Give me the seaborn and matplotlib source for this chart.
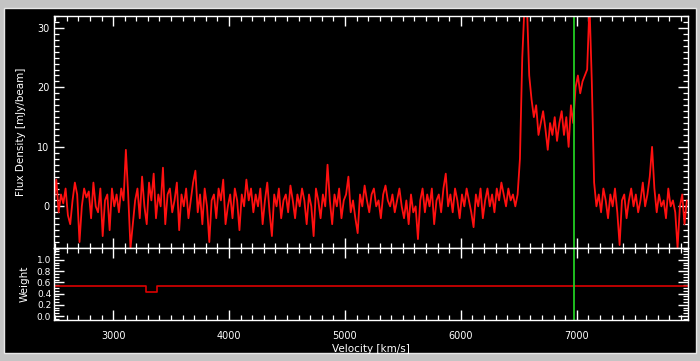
import numpy as np
import pandas as pd
import matplotlib
matplotlib.use("Agg")
import matplotlib.pyplot as plt
import seaborn as sns
from matplotlib.patches import Rectangle
from matplotlib.ticker import MultipleLocator

sns.set_style("dark")
plt.rcParams['font.family'] = ['DejaVu Sans']
plt.rcParams.update({
    "xtick.bottom": True, "xtick.top": True, "ytick.left": True, "ytick.right": True,
    "xtick.direction": "in", "ytick.direction": "in",
    "xtick.major.size": 7, "ytick.major.size": 7,
    "xtick.minor.size": 3.5, "ytick.minor.size": 3.5,
    "xtick.major.width": 1.0, "ytick.major.width": 1.0,
    "xtick.minor.width": 0.9, "ytick.minor.width": 0.9,
    "xtick.color": "white", "ytick.color": "white",
})

# ---- data ----
vel_start = 2490
vel_step = 20
flux = [
    # 2490-2990
    1, 4.5, -1, 2, 0.5, 3, -1.5, -3, 1, 4, 2, -6, 0, 3, 1.5, 2.5, -2, 4, 0, -1, 3, -5, 1, 2, -4, 3,
    # 3010-3490
    0, 2, -1, 3, 1, 9.5, 2, -7, -3, 1, 3, -2, 5, 0, -3, 4, 1, 5.5, -2, 2, 0, 6.5, -3, 2, 3,
    # 3510-3990
    -1, 1, 4, -4, 2, 0, 3, -2, 1, 4, 6, -1, 2, -3, 3, 0, -6, 1, 2, -2, 3, 1, 4.5, -3, 0,
    # 4010-4490
    2, -2, 3, 1, -4, 2, 0, 4.5, 1, 3, -1, 2, 0, 3, -3, 1, 4, -1, -5, 2, 0, 3, -2, 1, 2,
    # 4510-4990
    -1, 3.5, 1, -2, 2, 0, 3, 1, -3, 2, 0, -5, 3, 1, -2, 2, 0, 7, 1, -3, 2, 0, 3, -2, 1,
    # 5010-5490
    2, 5, -1, 1, -2, -4.5, 2, 0, 3.5, 1, -1, 2, 3, 0, 1, -2, 2, 3.5, 1, 0, 2, -1, 1, 3, 0,
    # 5510-5990
    -2, 1, -3, 2, -1, 0, -5.5, 1, 3, -1, 2, 0, 3, -3, 1, 2, -1, 3, 5.5, 0, 2, -1, 3, 1, -2,
    # 6010-6490
    2, 0, 3, 1, -1, -3.5, 2, 0, 3, -2, 1, 3, 0, 2, -1, 3, 1, 4, 2, 0, 3, 1, 2, 0, 2,
    # 6510-6990
    8, 25, 34, 34, 22, 18, 15, 17, 12, 14, 16, 13, 9.5, 14, 12, 15, 11, 14, 16, 12, 15, 10, 17, 14, 20,
    # 7010-7490
    22, 19, 21, 22, 23, 34, 21, 4, 0, 2, -1, 3, 1, -2, 2, 0, 3, -1, -6.5, 1, 2, -2, 1, 3, 0,
    # 7510-7950
    2, -1, 1, 4, 0, 2, 5, 10, 3, -1, 2, 0, 1, -2, 3, 0, 1, -1, -7, 0, 2, -3, 1,
]
velocity = vel_start + vel_step * np.arange(len(flux))

weight_vel = [2490, 3280, 3380, 7960]
weight_val = [0.53, 0.43, 0.53, 0.53]

marker_vel = 6975
x_ticks = [3000, 4000, 5000, 6000, 7000]
flux_ticks = [0, 10, 20, 30]
weight_ticks = [0.0, 0.2, 0.4, 0.6, 0.8, 1.0]
weight_labels = ["0.0", "0.2", "0.4", "0.6", "0.8", "1.0"]

df = pd.DataFrame({"Velocity": velocity, "Flux": flux})
dw = pd.DataFrame({"Velocity": weight_vel, "Weight": weight_val})

W, H = 700, 361
fig = plt.figure(figsize=(7.0, 3.61), dpi=100, facecolor="#c4c4c4")
# black panel inside the gray window frame
fig.patches.append(Rectangle((4 / W, 8 / H), 692 / W, 345 / H, transform=fig.transFigure,
                             facecolor="black", edgecolor="#e8e8e8", lw=1, zorder=-10))

L, R = 54 / W, 688 / W
ax1 = fig.add_axes([L, 1 - 248 / H, R - L, (248 - 16) / H])
ax2 = fig.add_axes([L, 1 - 320 / H, R - L, (320 - 248) / H], sharex=ax1)

sns.lineplot(data=df, x="Velocity", y="Flux", ax=ax1, color="#ff1010", lw=1.3,
             estimator=None)
ax1.axvline(marker_vel, color="#22cc22", lw=1.3)
ax1.set_xlim(2490, 7960)
ax1.set_ylim(-7, 32)
ax1.set_yticks(flux_ticks)
ax1.yaxis.set_minor_locator(MultipleLocator(1))
ax1.xaxis.set_minor_locator(MultipleLocator(100))
ax1.set_xticks(x_ticks)
ax1.set_xlabel("")
ax1.set_ylabel("Flux Density [mJy/beam]", color="white", fontsize=7.5, labelpad=8)

sns.lineplot(data=dw, x="Velocity", y="Weight", ax=ax2, color="#dd0000", lw=1.2,
             drawstyle="steps-post", estimator=None)
ax2.axvline(marker_vel, color="#22cc22", lw=1.3)
ax2.set_ylim(-0.07, 1.21)
ax2.set_yticks(weight_ticks)
ax2.set_yticklabels(weight_labels)
ax2.yaxis.set_minor_locator(MultipleLocator(0.05))
ax2.set_xticks(x_ticks)
ax2.set_ylabel("Weight", color="white", fontsize=7.5, labelpad=5)
ax2.set_xlabel("Velocity [km/s]", color="white", fontsize=7.5, labelpad=2)

for ax in (ax1, ax2):
    ax.set_facecolor("black")
    ax.grid(False)
    for s in ax.spines.values():
        s.set_color("white")
        s.set_linewidth(1.0)
        s.set_visible(True)
    ax.tick_params(which="both", direction="in", colors="white", top=True, right=True,
                   bottom=True, left=True, labelsize=7)
    ax.tick_params(which="major", length=7, width=1.0)
    ax.tick_params(which="minor", length=3.5, width=0.9)

ax1.tick_params(axis="x", labelbottom=False)
ax2.tick_params(axis="y", labelsize=6.5, pad=2)
ax2.tick_params(axis="x", pad=8)

fig.savefig("out.png", dpi=100, facecolor=fig.get_facecolor())
